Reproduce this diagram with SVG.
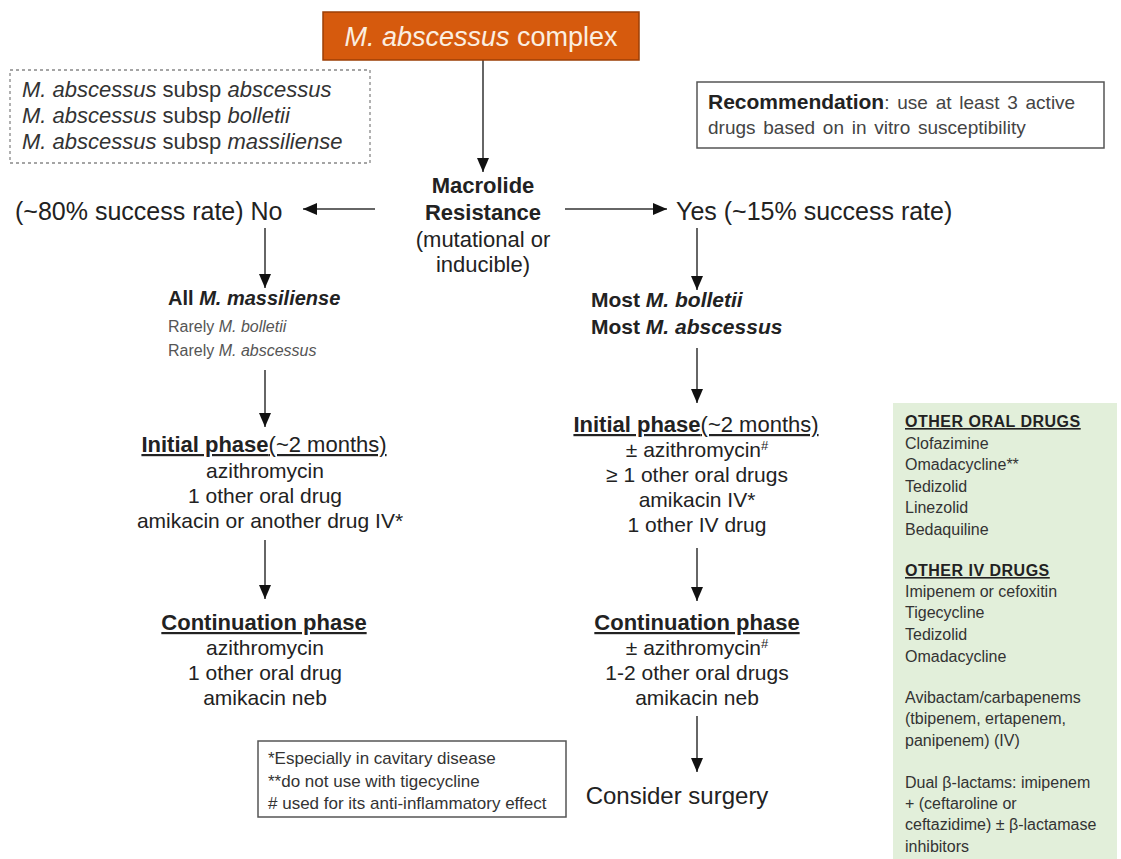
<svg xmlns="http://www.w3.org/2000/svg" width="1121" height="859" viewBox="0 0 1121 859">
<style>
text{font-family:"Liberation Sans",Arial,sans-serif;fill:#222}
.b{font-weight:bold}
.i{font-style:italic}
.m{font-size:21px}
.h{font-size:22px}
.c{text-anchor:middle}
.u{text-decoration:underline}
.g{font-size:16px;fill:#333}
.gh{font-size:16px;font-weight:bold;letter-spacing:0.5px;text-decoration:underline}
.line{stroke:#333;stroke-width:1.5;fill:none}
</style>
<defs>
<marker id="ah" viewBox="0 0 14 12" refX="14" refY="6" markerWidth="14" markerHeight="12" orient="auto" markerUnits="userSpaceOnUse"><path d="M0,0 L14,6 L0,12 z" fill="#111"/></marker>
</defs>
<rect width="1121" height="859" fill="#fff"/>

<g id="connectors">
<line class="line" x1="483" y1="60" x2="483" y2="172" marker-end="url(#ah)"/>
<line class="line" x1="375" y1="209" x2="303" y2="209" marker-end="url(#ah)"/>
<line class="line" x1="565" y1="209" x2="667" y2="209" marker-end="url(#ah)"/>
<line class="line" x1="265" y1="228" x2="265" y2="288" marker-end="url(#ah)"/>
<line class="line" x1="265" y1="370" x2="265" y2="427" marker-end="url(#ah)"/>
<line class="line" x1="265" y1="540" x2="265" y2="599" marker-end="url(#ah)"/>
<line class="line" x1="697" y1="228" x2="697" y2="290" marker-end="url(#ah)"/>
<line class="line" x1="697" y1="348" x2="697" y2="403" marker-end="url(#ah)"/>
<line class="line" x1="697" y1="548" x2="697" y2="601" marker-end="url(#ah)"/>
<line class="line" x1="697" y1="716" x2="697" y2="772" marker-end="url(#ah)"/>
</g>

<g id="complex">
<rect x="323" y="12" width="316" height="48" fill="#d65a0d" stroke="#9c3f06" stroke-width="1.5"/>
<text x="481" y="46" class="c" style="font-size:27px;fill:#fbeee0"><tspan class="i" style="fill:#fbeee0">M. abscessus</tspan> complex</text>
</g>

<g id="subspecies">
<rect x="10" y="70" width="360" height="93" fill="none" stroke="#888" stroke-width="1.3" stroke-dasharray="3,3"/>
<text x="22" y="97" style="font-size:22px;fill:#333"><tspan class="i">M. abscessus</tspan> subsp <tspan class="i">abscessus</tspan></text>
<text x="22" y="123" style="font-size:22px;fill:#333"><tspan class="i">M. abscessus</tspan> subsp <tspan class="i">bolletii</tspan></text>
<text x="22" y="149" style="font-size:22px;fill:#333"><tspan class="i">M. abscessus</tspan> subsp <tspan class="i">massiliense</tspan></text>
</g>

<g id="recommendation">
<rect x="697" y="82" width="407" height="66" fill="#fff" stroke="#555" stroke-width="1.5"/>
<text x="708" y="109" style="font-size:19px;word-spacing:2.5px;fill:#444"><tspan class="b" style="font-size:21px;fill:#222;word-spacing:0">Recommendation</tspan>: use at least 3 active</text>
<text x="708" y="134" style="font-size:19px;word-spacing:2.5px;fill:#444">drugs based on in vitro susceptibility</text>
</g>

<g id="macrolide">
<text x="483" y="193" class="c b h">Macrolide</text>
<text x="483" y="220" class="c b h">Resistance</text>
<text x="483" y="247" class="c h">(mutational or</text>
<text x="483" y="272" class="c h">inducible)</text>
</g>

<g id="no">
<text x="15" y="220" style="font-size:25px">(~80% success rate) No</text>
</g>

<g id="yes">
<text x="676" y="220" style="font-size:25px">Yes (~15% success rate)</text>
</g>

<g id="left-species">
<text x="168" y="305" class="b" style="font-size:20px">All <tspan class="i">M. massiliense</tspan></text>
<text x="168" y="332" style="font-size:16px;fill:#555">Rarely <tspan class="i">M. bolletii</tspan></text>
<text x="168" y="356" style="font-size:16px;fill:#555">Rarely <tspan class="i">M. abscessus</tspan></text>
</g>

<g id="left-initial">
<text x="264" y="452" class="c u h"><tspan class="b">Initial phase</tspan>(~2 months)</text>
<text x="265" y="478" class="c m">azithromycin</text>
<text x="265" y="503" class="c m">1 other oral drug</text>
<text x="270" y="528" class="c m">amikacin or another drug IV*</text>
</g>

<g id="left-continuation">
<text x="264" y="630" class="c u b h">Continuation phase</text>
<text x="265" y="655" class="c m">azithromycin</text>
<text x="265" y="680" class="c m">1 other oral drug</text>
<text x="265" y="705" class="c m">amikacin neb</text>
</g>

<g id="right-species">
<text x="591" y="307" class="b" style="font-size:21px">Most <tspan class="i">M. bolletii</tspan></text>
<text x="591" y="334" class="b" style="font-size:21px">Most <tspan class="i">M. abscessus</tspan></text>
</g>

<g id="right-initial">
<text x="696" y="432" class="c u h"><tspan class="b">Initial phase</tspan>(~2 months)</text>
<text x="697" y="457" class="c m">± azithromycin<tspan style="font-size:13px" dy="-7">#</tspan></text>
<text x="697" y="482" class="c m">≥ 1 other oral drugs</text>
<text x="697" y="507" class="c m">amikacin IV*</text>
<text x="697" y="532" class="c m">1 other IV drug</text>
</g>

<g id="right-continuation">
<text x="697" y="630" class="c u b h">Continuation phase</text>
<text x="697" y="655" class="c m">± azithromycin<tspan style="font-size:13px" dy="-7">#</tspan></text>
<text x="697" y="680" class="c m">1-2 other oral drugs</text>
<text x="697" y="705" class="c m">amikacin neb</text>
</g>

<g id="surgery">
<text x="677" y="804" class="c" style="font-size:24px">Consider surgery</text>
</g>

<g id="footnotes">
<rect x="258" y="741" width="308" height="76" fill="#fff" stroke="#555" stroke-width="1.5"/>
<text x="268" y="764" style="font-size:17px;fill:#333">*Especially in cavitary disease</text>
<text x="268" y="787" style="font-size:17px;fill:#333">**do not use with tigecycline</text>
<text x="268" y="809" style="font-size:17px;fill:#333"># used for its anti-inflammatory effect</text>
</g>

<g id="other-drugs">
<rect x="893" y="403" width="224" height="456" fill="#e2efda"/>
<text x="905" y="427" class="gh">OTHER ORAL DRUGS</text>
<text x="905" y="449" class="g">Clofazimine</text>
<text x="905" y="470" class="g">Omadacycline**</text>
<text x="905" y="492" class="g">Tedizolid</text>
<text x="905" y="513" class="g">Linezolid</text>
<text x="905" y="535" class="g">Bedaquiline</text>
<text x="905" y="576" class="gh">OTHER IV DRUGS</text>
<text x="905" y="597" class="g">Imipenem or cefoxitin</text>
<text x="905" y="618" class="g">Tigecycline</text>
<text x="905" y="640" class="g">Tedizolid</text>
<text x="905" y="662" class="g">Omadacycline</text>
<text x="905" y="703" class="g">Avibactam/carbapenems</text>
<text x="905" y="724" class="g">(tbipenem, ertapenem,</text>
<text x="905" y="746" class="g">panipenem) (IV)</text>
<text x="905" y="788" class="g">Dual β-lactams: imipenem</text>
<text x="905" y="809" class="g">+ (ceftaroline or</text>
<text x="905" y="830" class="g">ceftazidime) ± β-lactamase</text>
<text x="905" y="852" class="g">inhibitors</text>
</g>
</svg>
